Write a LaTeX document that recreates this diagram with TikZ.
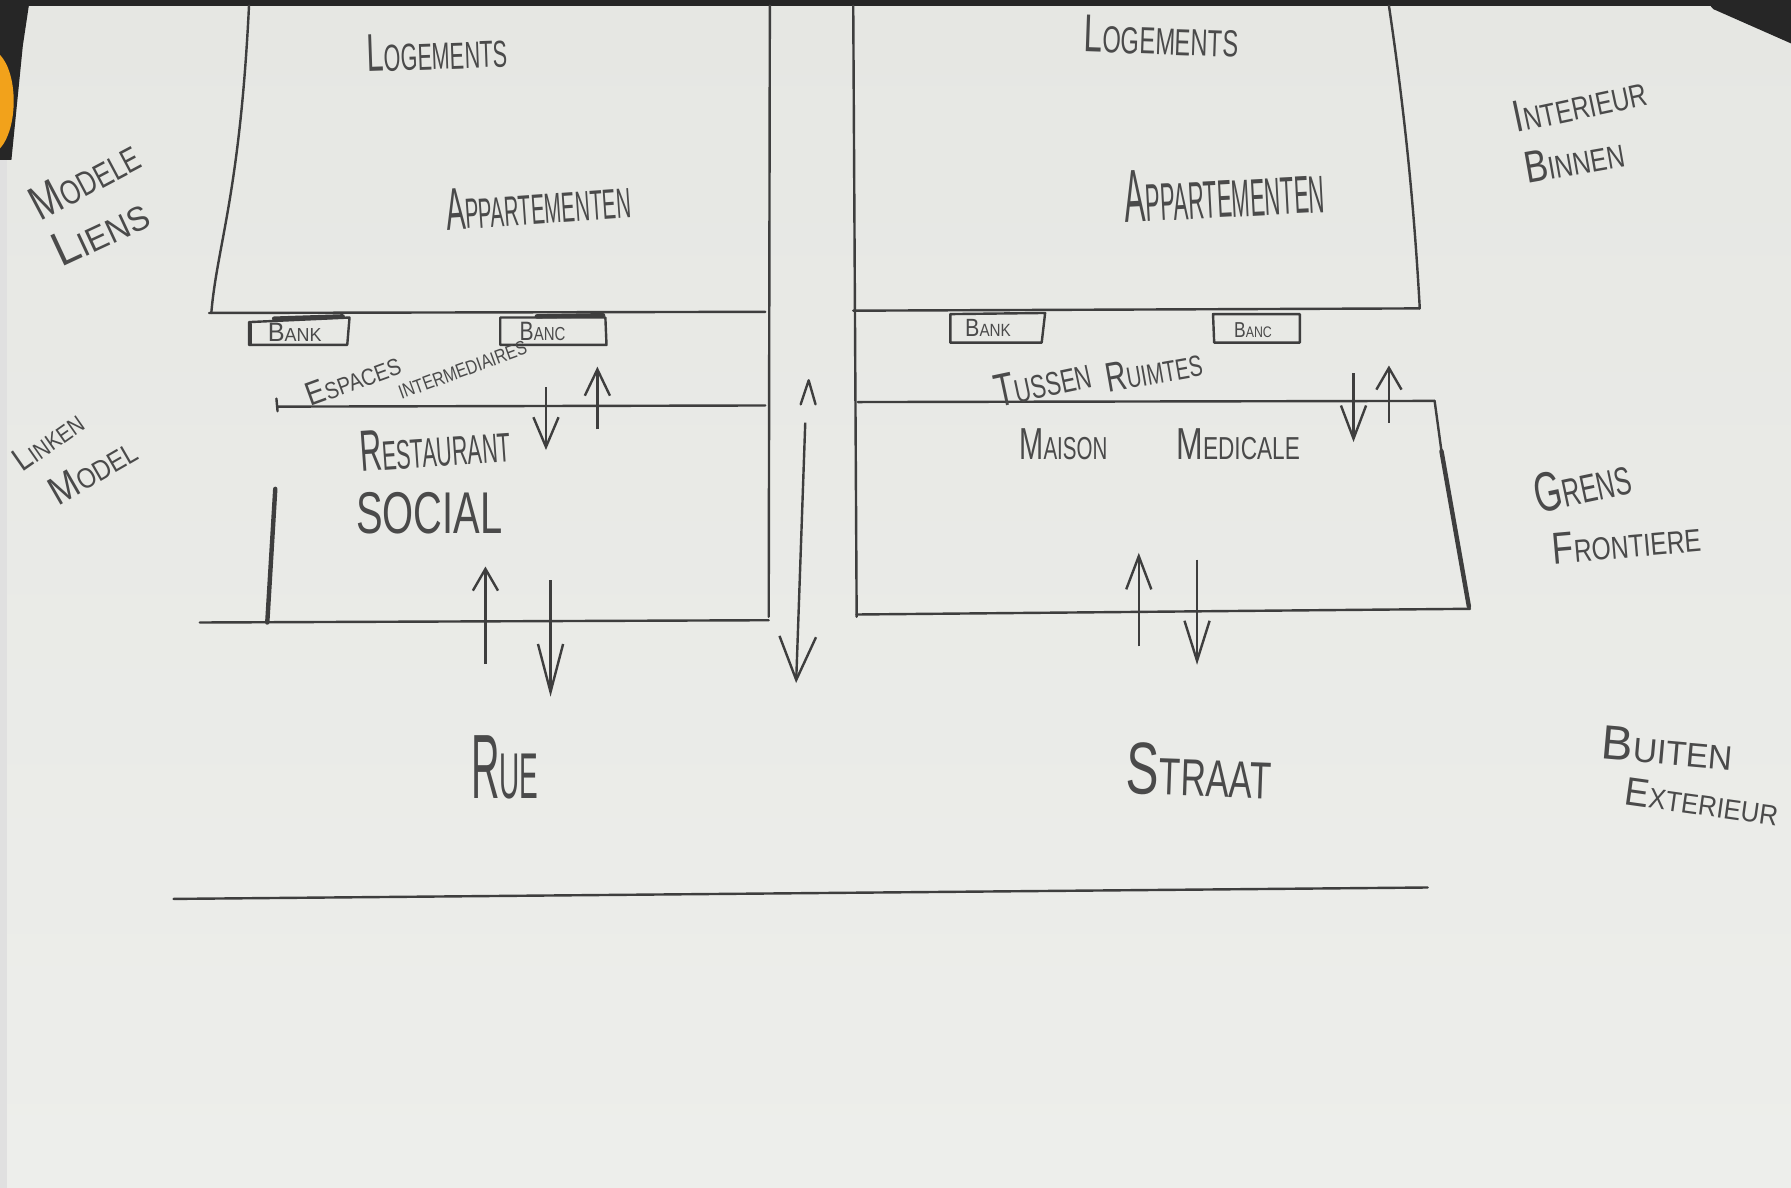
\documentclass[tikz,border=0pt]{standalone}
\usepackage{fontspec}
\usetikzlibrary{arrows.meta}
\newfontfamily\hwfont{Liberation Sans}
\definecolor{paper}{HTML}{E6E7E3}
\definecolor{paperlight}{HTML}{EDEEEB}
\definecolor{pencil}{HTML}{3E3E3E}
\definecolor{pencilT}{HTML}{4A4A4A}
\definecolor{orangeC}{HTML}{F2A21B}
% #1 width, #2 height, #3 big letter(s), #4 small letters
\newcommand\hw[4]{\resizebox{#1}{#2}{\hwfont\fontsize{12}{12}\selectfont #3\fontsize{8.5}{8.5}\selectfont #4}}
\tikzset{
  wall/.style={draw=pencil, line width=0.6pt, line cap=round, line join=round},
  heavy/.style={draw=pencil, line width=1.1pt, line cap=round},
  lbl/.style={inner sep=0pt, text=pencilT},
  arr/.style={draw=pencil, line width=0.6pt, -{Straight Barb[length=#1mm, width=2.2mm, line width=0.6pt]}},
  arr/.default=2.4
}
\begin{document}
\begin{tikzpicture}[x=0.01cm, y=-0.01cm]
\useasboundingbox (0,0) rectangle (1568,1040);
% paper
\shade[top color=paper, bottom color=paperlight] (0,0) rectangle (1568,1040);
\fill[black!85] (0,0) rectangle (1568,5);
\fill[black!85] (0,0) -- (26,0) -- (20,40) -- (10,140) -- (0,140) -- cycle;
\fill[orangeC] (0,48) .. controls (16,65) and (16,112) .. (0,130) -- cycle;
\fill[black!85] (1493,0) -- (1568,0) -- (1568,38) -- (1500,8) -- cycle;
\fill[black!12] (0,140) rectangle (6,1040);

% ---------- left upper block ----------
\draw[wall] (218,5) .. controls (210,170) and (190,215) .. (185,274);
\draw[wall] (183,274) -- (670,273);
% passage walls
\draw[wall] (674,5) -- (673,540);
\draw[wall] (747,5) -- (750,540);
% ---------- right upper block ----------
\draw[wall] (1216,5) .. controls (1230,100) and (1238,180) .. (1243,270);
\draw[wall] (747,272) -- (1243,270);

% benches
\draw[wall] (218,282) -- (306,278) -- (304,302) -- (218,302) -- cycle;
\draw[heavy] (219,284) -- (219,301);
\draw[heavy] (240,279) -- (300,277);
\draw[wall] (438,278) -- (530,278) -- (531,302) -- (438,302) -- cycle;
\draw[heavy] (470,277) -- (528,276);
\draw[wall] (832,275) -- (915,274) -- (912,300) -- (832,300) -- cycle;
\draw[wall] (1062,275) -- (1138,275) -- (1138,300) -- (1063,300) -- cycle;

% ---------- left lower block ----------
\draw[wall] (243,356) -- (670,355);
\draw[wall] (242,349) -- (243,360);
\draw[heavy] (241,428) -- (234,545);
\draw[wall] (175,545) -- (673,543);
% ---------- right lower block ----------
\draw[wall] (751,352) -- (1256,351);
\draw[wall] (1256,351) -- (1262,395);
\draw[heavy] (1262,395) -- (1286,531);
\draw[wall] (750,538) -- (1287,533);
% street line
\draw[wall] (152,787) -- (1250,777);

% ---------- arrows ----------
\coordinate (a1s) at (478,339); \coordinate (a1e) at (478,394);
\coordinate (a2s) at (523,376); \coordinate (a2e) at (523,321);
\coordinate (a3s) at (425,581); \coordinate (a3e) at (425,496);
\coordinate (a4s) at (482,508); \coordinate (a4e) at (482,610);
\draw[arr=2.6] (a1s) -- (a1e);
\draw[arr=2.3] (a2s) -- (a2e);
\draw[arr=1.9] (a3s) -- (a3e);
\draw[arr=4.2] (a4s) -- (a4e);
% central passage arrow
\coordinate (c1s) at (705,370); \coordinate (c1e) at (697,598);
\draw[draw=pencil, line width=0.6pt, -{Straight Barb[length=3.8mm, width=3.2mm, line width=0.6pt]}] (c1s) -- (c1e);
\coordinate (chL) at (701,354); \coordinate (chT) at (708,333); \coordinate (chR) at (714,354);
\draw[wall] (chL) -- (chT) -- (chR);
% right arrows
\coordinate (b1s) at (1185,327); \coordinate (b1e) at (1185,387);
\coordinate (b2s) at (1216,370); \coordinate (b2e) at (1216,320);
\coordinate (b3s) at (997,566);  \coordinate (b3e) at (997,484);
\coordinate (b4s) at (1048,490); \coordinate (b4e) at (1048,582);
\draw[arr=2.9] (b1s) -- (b1e);
\draw[arr=1.9] (b2s) -- (b2e);
\draw[arr=2.9] (b3s) -- (b3e);
\draw[arr=3.5] (b4s) -- (b4e);

% ---------- labels ----------
\node[lbl, rotate=2] (logL) at (383,45) {\hw{1.23cm}{0.32cm}{L}{OGEMENTS}};
\node[lbl, rotate=4] (appL) at (471,178) {\hw{1.62cm}{0.36cm}{A}{PPARTEMENTEN}};
\node[lbl, rotate=-2] (logR) at (1017,32) {\hw{1.35cm}{0.32cm}{L}{OGEMENTS}};
\node[lbl, rotate=3] (appR) at (1072,168) {\hw{1.75cm}{0.45cm}{A}{PPARTEMENTEN}};

\node[lbl] (bank1) at (258,291) {\hw{0.47cm}{0.16cm}{B}{ANK}};
\node[lbl] (banc1) at (475,290) {\hw{0.40cm}{0.16cm}{B}{ANC}};
\node[lbl] (bank2) at (865,287) {\hw{0.40cm}{0.15cm}{B}{ANK}};
\node[lbl] (banc2) at (1097,289) {\hw{0.33cm}{0.13cm}{B}{ANC}};

\node[lbl, rotate=20] (esp) at (309,332) {\hw{0.86cm}{0.20cm}{E}{SPACES}};
\node[lbl, rotate=20] (inter) at (405,324) {\hw{1.18cm}{0.12cm}{}{INTERMEDIAIRES}};
\node[lbl, rotate=4] (rest) at (381,391) {\hw{1.32cm}{0.35cm}{R}{ESTAURANT}};
\node[lbl] (soc) at (376,449) {\hw{1.28cm}{0.36cm}{SOCIAL}{}};

\node[lbl, rotate=12] (tus) at (913,334) {\hw{0.85cm}{0.28cm}{T}{USSEN}};
\node[lbl, rotate=10] (ruim) at (1010,324) {\hw{0.85cm}{0.25cm}{R}{UIMTES}};
\node[lbl] (mais) at (931,389) {\hw{0.77cm}{0.27cm}{M}{AISON}};
\node[lbl] (med) at (1084,389) {\hw{1.08cm}{0.27cm}{M}{EDICALE}};

\node[lbl] (rue) at (442,672) {\hw{0.59cm}{0.55cm}{R}{UE}};
\node[lbl, rotate=-2] (straat) at (1050,675) {\hw{1.27cm}{0.45cm}{S}{TRAAT}};

\node[lbl, rotate=28] (mod1) at (74,157) {\hw{1.02cm}{0.29cm}{M}{ODELE}};
\node[lbl, rotate=25] (liens) at (88,203) {\hw{0.88cm}{0.29cm}{L}{IENS}};
\node[lbl, rotate=35] (linken) at (42,386) {\hw{0.68cm}{0.20cm}{L}{INKEN}};
\node[lbl, rotate=30] (mod2) at (81,412) {\hw{0.83cm}{0.24cm}{M}{ODEL}};

\node[lbl, rotate=12] (int) at (1383,91) {\hw{1.18cm}{0.27cm}{I}{NTERIEUR}};
\node[lbl, rotate=10] (binnen) at (1378,140) {\hw{0.88cm}{0.27cm}{B}{INNEN}};
\node[lbl, rotate=12] (grens) at (1385,424) {\hw{0.85cm}{0.34cm}{G}{RENS}};
\node[lbl, rotate=5] (front) at (1424,475) {\hw{1.30cm}{0.27cm}{F}{RONTIERE}};
\node[lbl, rotate=-5] (buiten) at (1460,655) {\hw{1.15cm}{0.29cm}{B}{UITEN}};
\node[lbl, rotate=-8] (ext) at (1490,702) {\hw{1.35cm}{0.24cm}{E}{XTERIEUR}};
\end{tikzpicture}
\end{document}
